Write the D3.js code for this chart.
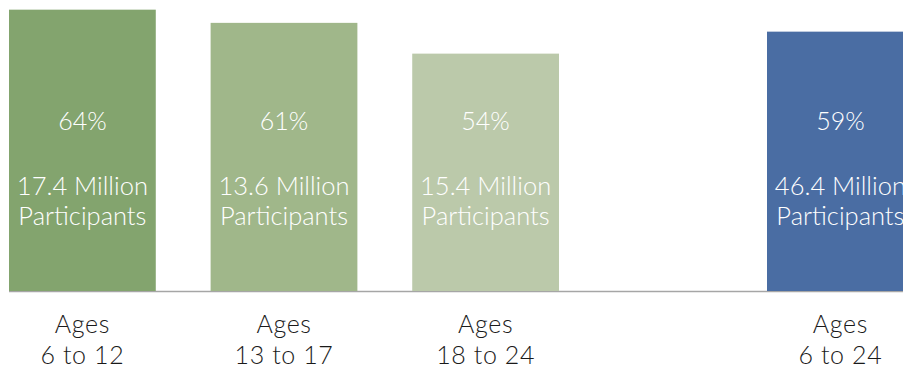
<!DOCTYPE html>
<html>
<head>
<meta charset="utf-8">
<script src="https://cdn.jsdelivr.net/npm/d3@7"></script>
<style>
  body { margin: 0; background: #fff; }
  svg { display: block; }
</style>
</head>
<body>
<svg id="chart" width="903" height="368"></svg>
<script>
// age groups (left cluster) and the overall total (right)
const groups = ['6 to 12', '13 to 17', '18 to 24'];
const groupPct = [64, 61, 54];
const groupMillions = [17.4, 13.6, 15.4];

const totalLabel = '6 to 24';
const totalPct = 59;
const totalMillions = 46.4;

const groupColors = ['#83a46e', '#a0b78a', '#bbc9aa'];
const totalColor = '#4a6da3';

const width = 903;
const baseY = 291;

const svg = d3.select('#chart');

const yScale = d3.scaleLinear().domain([0, 66.2]).range([baseY, 0]);

const xGroups = d3.scaleBand().domain(groups).range([9, 559]).paddingInner(0.272);
const xTotal = d3.scaleBand().domain([totalLabel]).range([767, 767 + xGroups.bandwidth()]);

const bars = groups.map((g, i) => ({
  label: g, pct: groupPct[i], mil: groupMillions[i], color: groupColors[i], x: xGroups(g),
}));
bars.push({ label: totalLabel, pct: totalPct, mil: totalMillions, color: totalColor, x: xTotal(totalLabel) });

const bw = xGroups.bandwidth();

// baseline
svg.append('line')
  .attr('x1', 9)
  .attr('x2', width)
  .attr('y1', baseY + 0.5)
  .attr('y2', baseY + 0.5)
  .attr('stroke', '#a6a6a6')
  .attr('stroke-width', 1.5);

svg.selectAll('rect.bar')
  .data(bars)
  .join('rect')
  .attr('class', 'bar')
  .attr('x', (d) => d.x)
  .attr('y', (d) => yScale(d.pct))
  .attr('width', bw)
  .attr('height', (d) => baseY - yScale(d.pct))
  .attr('fill', (d) => d.color);

const inner = svg.selectAll('g.inner')
  .data(bars)
  .join('g')
  .attr('class', 'inner')
  .attr('transform', (d) => `translate(${d.x + bw / 2},0)`)
  .style('font-family', 'Lato, "Noto Sans", sans-serif')
  .style('font-weight', 300)
  .attr('fill', '#ffffff')
  .attr('text-anchor', 'middle');

inner.append('text')
  .attr('y', 130)
  .style('font-size', '25px')
  .text((d) => `${d.pct}%`);

inner.append('text')
  .attr('y', 195)
  .style('font-size', '25.5px')
  .text((d) => `${d.mil.toFixed(1)} Million`);

inner.append('text')
  .attr('y', 225)
  .style('font-size', '25.5px')
  .text('Participants');

// category labels under the baseline
const labels = svg.selectAll('g.cat')
  .data(bars)
  .join('g')
  .attr('class', 'cat')
  .attr('transform', (d) => `translate(${d.x + bw / 2},0)`)
  .style('font-family', 'Lato, "Noto Sans", sans-serif')
  .style('font-weight', 300)
  .style('font-size', '25px')
  .style('letter-spacing', '0.6px')
  .attr('fill', '#1a1a1a')
  .attr('text-anchor', 'middle');

labels.append('text').attr('y', 333).text('Ages');
labels.append('text').attr('y', 364).text((d) => d.label);
</script>
</body>
</html>
